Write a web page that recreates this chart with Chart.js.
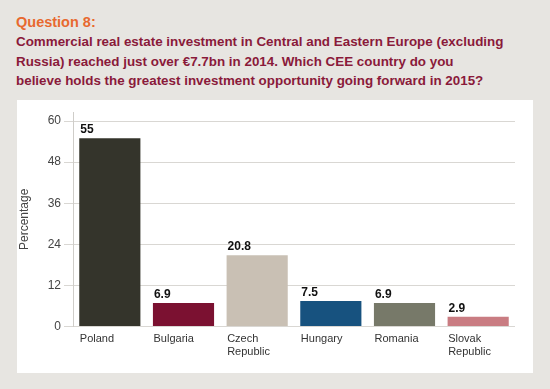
<!DOCTYPE html>
<html><head><meta charset="utf-8">
<script src="https://cdn.jsdelivr.net/npm/chart.js@4"></script>
<style>
html,body{margin:0;padding:0;}
body{width:550px;height:389px;background:#e7e5e1;position:relative;overflow:hidden;font-family:"Liberation Sans",Arial,sans-serif;}
#q{position:absolute;left:16px;top:13px;font-weight:bold;font-size:14.5px;color:#e8692f;line-height:18px;}
#t{position:absolute;left:16px;top:32px;font-weight:bold;font-size:13.4px;color:#8a1a3a;line-height:19.5px;white-space:nowrap;}
#panel{position:absolute;left:17px;top:100px;width:516px;height:273px;background:#fff;}
</style></head>
<body>
<div id="q">Question 8:</div>
<div id="t">Commercial real estate investment in Central and Eastern Europe (excluding<br>Russia) reached just over €7.7bn in 2014. Which CEE country do you<br>believe holds the greatest investment opportunity going forward in 2015?</div>
<div id="panel"><canvas id="c" width="516" height="273"></canvas></div>
<script>
const categories = [["Poland"],["Bulgaria"],["Czech","Republic"],["Hungary"],["Romania"],["Slovak","Republic"]];
const values = [55, 6.9, 20.8, 7.5, 6.9, 2.9];
const valueLabels = ["55","6.9","20.8","7.5","6.9","2.9"];
const yTicks = [0, 12, 24, 36, 48, 60];
const colors = ["#34342b","#7b1131","#c9c0b4","#17527f","#777969","#c97c82"];

const valuePlugin = {
  id:'vals',
  afterDatasetsDraw(chart){
    const ctx = chart.ctx;
    const meta = chart.getDatasetMeta(0);
    ctx.save();
    ctx.font = 'bold 12px "Liberation Sans", Arial, sans-serif';
    ctx.fillStyle = '#111';
    ctx.textAlign = 'left';
    ctx.textBaseline = 'alphabetic';
    meta.data.forEach((bar,i)=>{
      ctx.fillText(valueLabels[i], bar.x - bar.width/2 + 1, bar.y - 5);
    });
    ctx.restore();
  }
};

new Chart(document.getElementById('c'), {
  type:'bar',
  data:{labels:categories, datasets:[{data:values, backgroundColor:colors, borderWidth:0, barPercentage:0.83, categoryPercentage:1}]},
  options:{
    responsive:false, animation:false,
    layout:{padding:{top:12,right:18,left:0,bottom:8}},
    plugins:{legend:{display:false}, tooltip:{enabled:false}},
    scales:{
      x:{
        grid:{display:false, drawTicks:false},
        border:{display:false},
        ticks:{align:'start', labelOffset:-30, padding:6, color:'#333', font:{size:11, family:'"Liberation Sans", Arial, sans-serif'}, maxRotation:0, autoSkip:false}
      },
      y:{
        min:0, max:62.65,
        afterBuildTicks(s){ s.ticks = yTicks.map(v=>({value:v})); },
        afterFit(s){ s.width = 56; },
        grid:{color:'#d9d7d3', tickLength:9, lineWidth:1},
        border:{display:true, color:'#cfcdc9'},
        ticks:{padding:3, color:'#444', font:{size:12, family:'"Liberation Sans", Arial, sans-serif'}},
        title:{display:true, text:'Percentage', color:'#444', font:{size:12, family:'"Liberation Sans", Arial, sans-serif'}, padding:{top:0,bottom:4}}
      }
    }
  },
  plugins:[valuePlugin]
});
</script>
</body></html>
